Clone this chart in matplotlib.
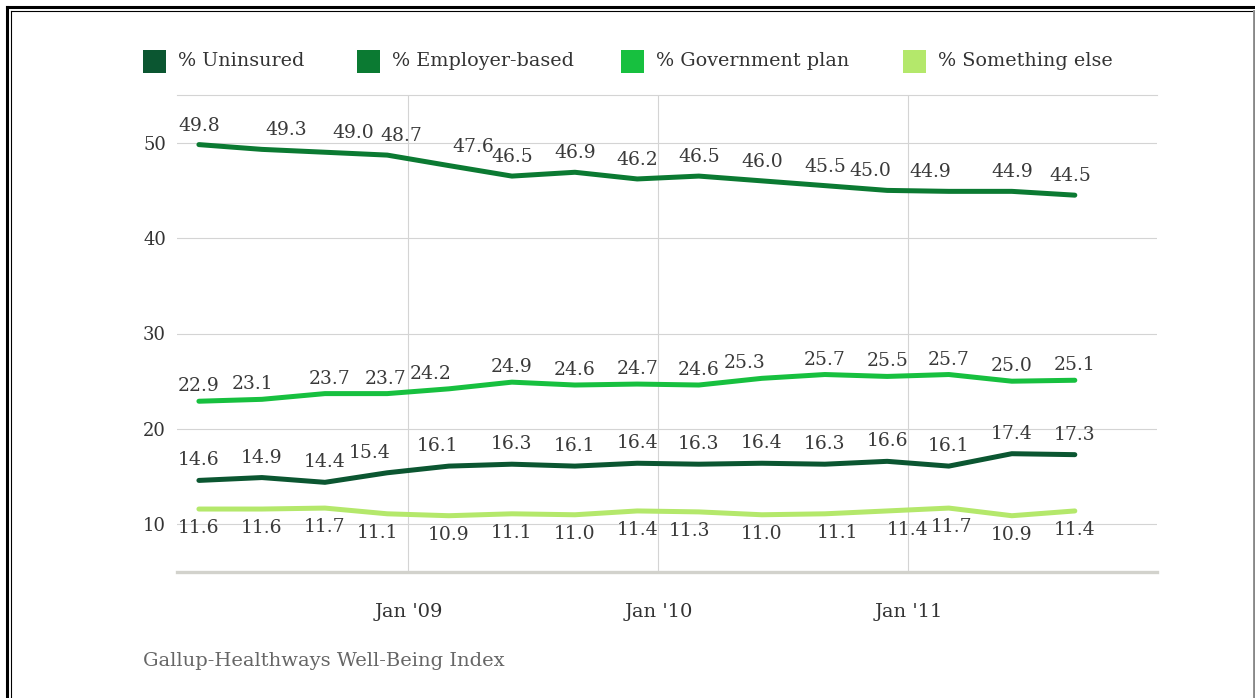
import numpy as np
import pandas as pd
import matplotlib as mpl
import matplotlib.pyplot as plt
import matplotlib.dates as mdates
from matplotlib.lines import Line2D
from matplotlib.patches import Rectangle

mpl.rcParams['font.family'] = 'DejaVu Serif'

W, H = 1255, 698

# Quarterly survey points, Q1 2008 - Q3 2011
dates = pd.to_datetime(["2008-03-01", "2008-06-01", "2008-09-01", "2008-12-01",
                        "2009-03-01", "2009-06-01", "2009-09-01", "2009-12-01",
                        "2010-03-01", "2010-06-01", "2010-09-01", "2010-12-01",
                        "2011-03-01", "2011-06-01", "2011-09-01"])

uninsured = [14.6, 14.9, 14.4, 15.4, 16.1, 16.3, 16.1, 16.4, 16.3, 16.4, 16.3, 16.6, 16.1, 17.4, 17.3]
employer = [49.8, 49.3, 49.0, 48.7, 47.6, 46.5, 46.9, 46.2, 46.5, 46.0, 45.5, 45.0, 44.9, 44.9, 44.5]
government = [22.9, 23.1, 23.7, 23.7, 24.2, 24.9, 24.6, 24.7, 24.6, 25.3, 25.7, 25.5, 25.7, 25.0, 25.1]
something = [11.6, 11.6, 11.7, 11.1, 10.9, 11.1, 11.0, 11.4, 11.3, 11.0, 11.1, 11.4, 11.7, 10.9, 11.4]

names = ["% Uninsured", "% Employer-based", "% Government plan", "% Something else"]
colors = ["#0b5631", "#0b7a32", "#17c03f", "#b4e86b"]
series = [uninsured, employer, government, something]

# label placement (pixels): vertical offset per series, horizontal nudges per label
label_dy = [20, 19, 15, -19]
label_dx = [
    [0, 0, 0, -18, -11, 0, 0, 0, 0, 0, 0, 0, 0, 0, 0],
    [0, 24, 28, 14, 24, 0, 0, 0, 0, 0, 0, -17, -19, 0, -5],
    [0, -9, 5, -2, -18, 0, 0, 0, 0, -17, 0, 0, 0, 0, 0],
    [0, 0, 0, -10, 0, 0, 0, 0, -9, 0, 13, 20, 3, 0, 0],
]

fig = plt.figure(figsize=(W / 100, H / 100), dpi=100)
ax = fig.add_axes([177 / W, 1 - 572 / H, 980 / W, 477 / H])

for vals, col, dy, dxs in zip(series, colors, label_dy, label_dx):
    ax.plot(dates, vals, color=col, lw=3.6, solid_joinstyle="round",
            solid_capstyle="round", zorder=3)
    for d, v, dx in zip(dates, vals, dxs):
        ax.annotate("%.1f" % v, (d, v), xytext=(dx, dy), textcoords="offset pixels",
                    ha="center", va="center", fontsize=13.5, color="#3a3a3a", zorder=4)

ax.set_ylim(5, 55)
ax.set_yticks([10, 20, 30, 40, 50])
ax.set_xlim(pd.Timestamp("2008-01-29"), pd.Timestamp("2011-12-30"))
ax.set_xticks([pd.Timestamp("2009-01-01"), pd.Timestamp("2010-01-01"),
               pd.Timestamp("2011-01-01")])
ax.xaxis.set_major_formatter(mdates.DateFormatter("Jan '%y"))

ax.grid(True, color="#d4d4d4", lw=0.8, zorder=0)
ax.tick_params(axis="both", length=0, labelsize=13, labelcolor="#333333")
ax.tick_params(axis="x", pad=22, labelsize=14)
ax.tick_params(axis="y", pad=8)
for s in ["left", "right"]:
    ax.spines[s].set_visible(False)
ax.spines["top"].set_color("#d4d4d4")
ax.spines["top"].set_linewidth(0.8)
ax.spines["bottom"].set_color("#d2d2cc")
ax.spines["bottom"].set_linewidth(2.4)

# legend row
legend_x = [143, 357, 621, 903]
for lx, name, col in zip(legend_x, names, colors):
    fig.add_artist(Rectangle((lx / W, 1 - 73 / H), 23 / W, 23 / H,
                             transform=fig.transFigure, facecolor=col,
                             edgecolor="none"))
    fig.text((lx + 35) / W, 1 - 61 / H, name, ha="left", va="center",
             fontsize=13.8, color="#333333")

fig.text(143 / W, 1 - 661 / H, "Gallup-Healthways Well-Being Index",
         ha="left", va="center", fontsize=14, color="#666666")

# page frame
fx = lambda p: p / W
fy = lambda p: 1 - p / H
fig.add_artist(Line2D([fx(6.5), fx(6.5)], [fy(6.5), 0], color="black", lw=2.2,
                      transform=fig.transFigure))
fig.add_artist(Line2D([fx(6.5), 1], [fy(6.5), fy(6.5)], color="black", lw=2.2,
                      transform=fig.transFigure))
fig.add_artist(Line2D([fx(11), fx(11)], [fy(11), 0], color="black", lw=0.8,
                      transform=fig.transFigure))
fig.add_artist(Line2D([fx(11), fx(1252)], [fy(11), fy(11)], color="black", lw=0.8,
                      transform=fig.transFigure))
fig.add_artist(Line2D([fx(1253.5), fx(1253.5)], [fy(11), 0], color="#888888", lw=2.0,
                      transform=fig.transFigure))

fig.savefig("out.png", dpi=100)
